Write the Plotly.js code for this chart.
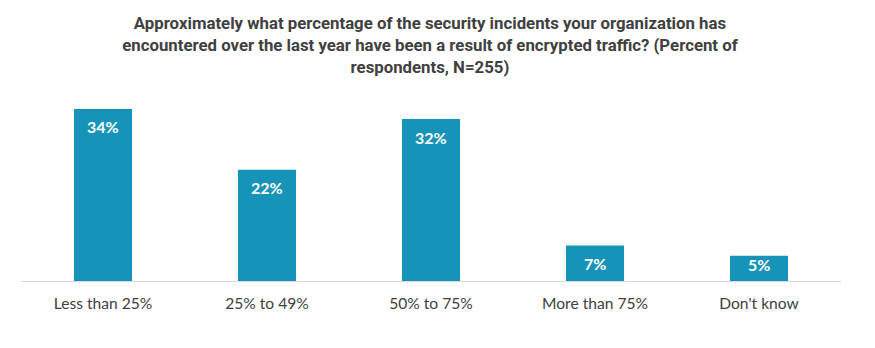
<!DOCTYPE html>
<html>
<head>
<meta charset="utf-8">
<script src="https://cdn.plot.ly/plotly-3.0.1.min.js"></script>
<style>html,body{margin:0;padding:0;background:#fff;}#chart{width:875px;height:348px;}</style>
</head>
<body>
<div id="chart"></div>
<script>
const categories = ["Less than 25%", "25% to 49%", "50% to 75%", "More than 75%", "Don't know"];
const values = [34, 22, 32, 7, 5];
const valueLabels = ["34%", "22%", "32%", "7%", "5%"];
const chartTitle = "Approximately what percentage of the security incidents your organization has<br>encountered over the last year have been a result of encrypted traffic? (Percent of<br>respondents, N=255)";

const yMax = 35.77;
const plotTop = 100, plotBottom = 67, H = 348;
const pxPerUnit = (H - plotTop - plotBottom) / yMax;

const trace = {
  type: "bar",
  x: categories,
  y: values,
  marker: {color: "#1693b8"},
  width: 0.354,
  hoverinfo: "skip"
};

const annotations = categories.map((c, i) => ({
  x: c,
  y: values[i],
  xref: "x",
  yref: "y",
  text: "<b>" + valueLabels[i] + "</b>",
  showarrow: false,
  xanchor: "center",
  yanchor: "middle",
  yshift: -Math.min(18, values[i] * pxPerUnit - 17),
  font: {family: "Lato, sans-serif", size: 16, color: "#ffffff"}
}));

const layout = {
  width: 875,
  height: 348,
  margin: {l: 21, r: 34, t: plotTop, b: plotBottom},
  paper_bgcolor: "#ffffff",
  plot_bgcolor: "#ffffff",
  showlegend: false,
  title: {
    text: "<b>" + chartTitle + "</b>",
    font: {family: "Roboto, sans-serif", size: 16.8, color: "#404040"},
    x: 0.4914, xanchor: "center",
    y: 0.917, yanchor: "top"
  },
  xaxis: {
    type: "category",
    showgrid: false,
    zeroline: false,
    showline: false,
    ticks: "outside",
    ticklen: 8,
    tickcolor: "rgba(0,0,0,0)",
    tickfont: {family: "Lato, sans-serif", size: 15.6, color: "#404040"},
    fixedrange: true
  },
  yaxis: {
    range: [0, yMax],
    showgrid: false,
    zeroline: true,
    zerolinecolor: "#d9d9d9",
    zerolinewidth: 1,
    showticklabels: false,
    showline: false,
    ticks: "",
    fixedrange: true
  },
  annotations: annotations
};

Plotly.newPlot("chart", [trace], layout, {displayModeBar: false, staticPlot: true});
</script>
</body>
</html>
